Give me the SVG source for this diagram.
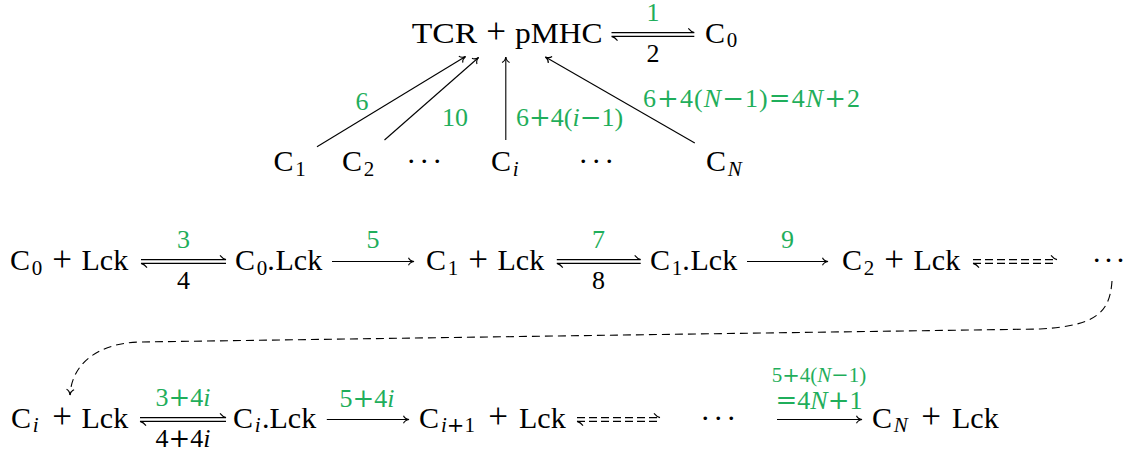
<svg xmlns="http://www.w3.org/2000/svg" width="1125" height="457" viewBox="0 0 1125 457">
<style>
text{font-family:"Liberation Serif","DejaVu Serif",serif;fill:#000}
.m{font-size:30px}
.s{font-size:21px}
.it{font-style:italic}
.op{font-family:"DejaVu Serif","Liberation Serif",serif}
.pl{font-size:35px}
.g{font-size:26px;fill:#1fae5b}
.b{font-size:26px;fill:#000}
.gs{font-size:21px;fill:#1fae5b}
.ln{fill:none;stroke:#000;stroke-width:1.1}
.da{stroke-dasharray:8 4}
.dc{stroke-dasharray:8 5}
.mid{text-anchor:middle}
</style>
<defs>
<marker id="ah" markerUnits="userSpaceOnUse" markerWidth="10" markerHeight="12" viewBox="-8 -6 10 12" refX="0" refY="0" orient="auto">
<path d="M-5.5,-3.8 C-4.6,-1.5 -2,-0.35 0,0 C-2,0.35 -4.6,1.5 -5.5,3.8" fill="none" stroke="#000" stroke-width="1.1"/>
</marker>
</defs>

<g id="tcr_pmhc">
<text class="m" x="411.7" y="42.5" textLength="65.4" lengthAdjust="spacingAndGlyphs">TCR</text>
<text class="pl mid" x="496" y="43">+</text>
<text class="m" x="515" y="42.5" textLength="87.5" lengthAdjust="spacingAndGlyphs">pMHC</text>
</g>
<g id="c0_top"><text class="m" x="705" y="42.5">C</text><text class="s" x="726.7" y="47">0</text></g>
<g id="c1_top"><text class="m" x="273.5" y="171">C</text><text class="s" x="295.2" y="175.5">1</text></g>
<g id="c2_top"><text class="m" x="342" y="171">C</text><text class="s" x="363.7" y="175.5">2</text></g>
<g id="dots_top1"><text class="m" x="406.25 419.25 432.25" y="171">···</text></g>
<g id="ci_top"><text class="m" x="491" y="171">C</text><text class="s it" x="512.7" y="175.5">i</text></g>
<g id="dots_top2"><text class="m" x="578.25 591.25 604.25" y="171">···</text></g>
<g id="cn_top"><text class="m" x="706" y="171">C</text><text class="s it" x="727.7" y="175.5">N</text></g>

<g id="c0_lck"><text class="m" x="10" y="270">C</text><text class="s" x="31.7" y="274.5">0</text><text class="pl mid" x="62" y="270.5">+</text><text class="m" x="81.5" y="270">Lck</text></g>
<g id="c0dot_lck"><text class="m" x="235" y="270">C</text><text class="s" x="256.7" y="274.5">0</text><text class="m" x="267.2" y="270">.</text><text class="m" x="275.5" y="270">Lck</text></g>
<g id="c1_lck"><text class="m" x="426" y="270">C</text><text class="s" x="447.7" y="274.5">1</text><text class="pl mid" x="478" y="270.5">+</text><text class="m" x="497.5" y="270">Lck</text></g>
<g id="c1dot_lck"><text class="m" x="650" y="270">C</text><text class="s" x="671.7" y="274.5">1</text><text class="m" x="682.2" y="270">.</text><text class="m" x="690.5" y="270">Lck</text></g>
<g id="c2_lck"><text class="m" x="842" y="270">C</text><text class="s" x="863.7" y="274.5">2</text><text class="pl mid" x="894" y="270.5">+</text><text class="m" x="913.5" y="270">Lck</text></g>
<g id="dots_row2"><text class="m" x="1091.75 1103.6 1115.4" y="270">···</text></g>

<g id="ci_lck"><text class="m" x="11" y="427.5">C</text><text class="s it" x="32.7" y="432">i</text><text class="pl mid" x="62" y="428">+</text><text class="m" x="81.5" y="427.5">Lck</text></g>
<g id="cidot_lck"><text class="m" x="233" y="427.5">C</text><text class="s it" x="254.7" y="432">i</text><text class="m" x="262" y="427.5">.</text><text class="m" x="269.5" y="427.5">Lck</text></g>
<g id="ci1_lck"><text class="m" x="419" y="427.5">C</text><text class="s" x="441" y="432"><tspan class="it">i</tspan><tspan class="op">+</tspan>1</text><text class="pl mid" x="498" y="428">+</text><text class="m" x="519" y="427.5">Lck</text></g>
<g id="dots_row3"><text class="m" x="700.25 713.25 726.25" y="427.5">···</text></g>
<g id="cn_lck"><text class="m" x="872" y="427.5">C</text><text class="s it" x="893.7" y="432">N</text><text class="pl mid" x="931" y="428">+</text><text class="m" x="952" y="427.5">Lck</text></g>

<g id="connectors">
<path class="ln" d="M611.5,32.6 H694.3 q-3.5,-1 -6,-4.2 M611.5,36.4 H694.3 M611.5,36.4 q3.5,1 6,4.2"/>
<line class="ln" x1="317" y1="146.7" x2="465.5" y2="56.5" marker-end="url(#ah)"/>
<line class="ln" x1="384.5" y1="140" x2="478.6" y2="57.5" marker-end="url(#ah)"/>
<line class="ln" x1="505.8" y1="140" x2="505.8" y2="57" marker-end="url(#ah)"/>
<line class="ln" x1="694.8" y1="143" x2="545.4" y2="57" marker-end="url(#ah)"/>

<path class="ln" d="M141,259.6 H226 q-3.5,-1 -6,-4.2 M141,263.4 H226 M141,263.4 q3.5,1 6,4.2"/>
<line class="ln" x1="332" y1="261.5" x2="414" y2="261.5" marker-end="url(#ah)"/>
<path class="ln" d="M556.8,259.6 H640.7 q-3.5,-1 -6,-4.2 M556.8,263.4 H640.7 M556.8,263.4 q3.5,1 6,4.2"/>
<line class="ln" x1="747" y1="261.5" x2="828" y2="261.5" marker-end="url(#ah)"/>
<path class="ln da" d="M973,259.6 H1057 M973,263.4 H1057"/>
<path class="ln" d="M1057,259.6 q-3.5,-1 -6,-4.2 M973,263.4 q3.5,1 6,4.2"/>

<path class="ln dc" d="M1112,281 C1110,310 1099,326 1040,329 L140,342 C100,343 72,362 70,395" marker-end="url(#ah)"/>

<path class="ln" d="M140,417.6 H226 q-3.5,-1 -6,-4.2 M140,421.4 H226 M140,421.4 q3.5,1 6,4.2"/>
<line class="ln" x1="326.8" y1="419.5" x2="409" y2="419.5" marker-end="url(#ah)"/>
<path class="ln da" d="M577,417.6 H660 M577,421.4 H660"/>
<path class="ln" d="M660,417.6 q-3.5,-1 -6,-4.2 M577,421.4 q3.5,1 6,4.2"/>
<line class="ln" x1="777" y1="419.5" x2="862" y2="419.5" marker-end="url(#ah)"/>
</g>

<g id="labels">
<text class="g mid" x="653" y="21">1</text>
<text class="b mid" x="653" y="62">2</text>
<text class="g mid" x="362" y="110">6</text>
<text class="g mid" x="455" y="126">10</text>
<text class="g" x="516" y="126">6<tspan class="op">+</tspan>4(<tspan class="it">i</tspan><tspan class="op">−</tspan>1)</text>
<text class="g" x="643" y="107" textLength="217" lengthAdjust="spacing">6<tspan class="op">+</tspan>4(<tspan class="it">N</tspan><tspan class="op">−</tspan>1)<tspan class="op">=</tspan>4<tspan class="it">N</tspan><tspan class="op">+</tspan>2</text>
<text class="g mid" x="183.5" y="248">3</text>
<text class="b mid" x="183.5" y="289">4</text>
<text class="g mid" x="373" y="248">5</text>
<text class="g mid" x="598.5" y="248">7</text>
<text class="b mid" x="598.5" y="289">8</text>
<text class="g mid" x="787.5" y="248">9</text>
<text class="g mid" x="183" y="406">3<tspan class="op">+</tspan>4<tspan class="it">i</tspan></text>
<text class="b mid" x="183" y="447">4<tspan class="op">+</tspan>4<tspan class="it">i</tspan></text>
<text class="g mid" x="367" y="407">5<tspan class="op">+</tspan>4<tspan class="it">i</tspan></text>
<text class="gs mid" x="819" y="382">5<tspan class="op">+</tspan>4(<tspan class="it">N</tspan><tspan class="op">−</tspan>1)</text>
<text class="g mid" x="819" y="409"><tspan class="op">=</tspan>4<tspan class="it">N</tspan><tspan class="op">+</tspan>1</text>
</g>
</svg>
